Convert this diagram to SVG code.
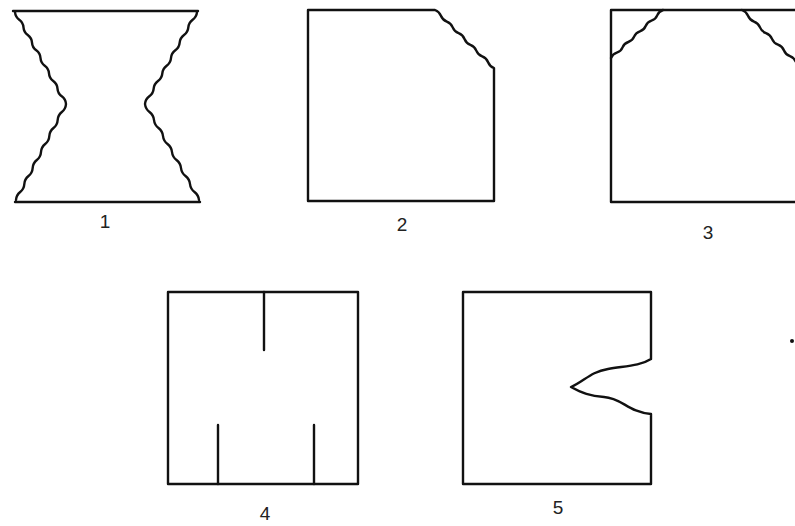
<svg xmlns="http://www.w3.org/2000/svg" width="795" height="526" viewBox="0 0 795 526">
<style>
.ln{fill:none;stroke:#111;stroke-width:2.4;stroke-linejoin:round;stroke-linecap:round}
.lb{font-family:"Liberation Sans",Arial,sans-serif;font-size:19px;fill:#222;text-anchor:middle}
</style>
<rect width="795" height="526" fill="#fff"/>
<g id="fig1">
<path class="ln" d="M13,11 L198,11"/>
<path class="ln" d="M15,202 L200,202"/>
<path class="ln" d="M15,12 Q15.3,16.8 19.25,19.67 T23.5,27.33 T27.75,35 T32,42.67 T36.25,50.33 T40.5,58 T44.75,65.67 T49,73.33 T53.25,81 T57.5,88.67 T61.75,96.33 T66,104 Q65.7,108.9 61.83,112 T57.67,120 T53.5,128 T49.33,136 T45.17,144 T41,152 T36.83,160 T32.67,168 T28.5,176 T24.33,184 T20.17,192 T16,200"/>
<path class="ln" d="M197,12 Q196.6,16.8 192.67,19.67 T188.33,27.33 T184,35 T179.67,42.67 T175.33,50.33 T171,58 T166.67,65.67 T162.33,73.33 T158,81 T153.67,88.67 T149.33,96.33 T145,104 Q145.5,108.9 149.5,112 T154,120 T158.5,128 T163,136 T167.5,144 T172,152 T176.5,160 T181,168 T185.5,176 T190,184 T194.5,192 T199,200"/>
<text class="lb" x="105" y="228">1</text>
</g>
<g id="fig2">
<path class="ln" d="M308,10 L435,10 Q439.2,11.6 440.9,15.8 T446.8,21.6 T452.7,27.4 T458.6,33.2 T464.5,39 T470.4,44.8 T476.3,50.6 T482.2,56.4 T488.1,62.2 T494,68 L494,201 L308,201 Z"/>
<text class="lb" x="402" y="231">2</text>
</g>
<g id="fig3">
<path class="ln" d="M800,10 L611,10 L611,202 L800,202"/>
<path class="ln" d="M611,58 Q612.6,54 616.78,52.67 T622.56,47.33 T628.33,42 T634.11,36.67 T639.89,31.33 T645.67,26 T651.44,20.67 T657.22,15.33 T663,10"/>
<path class="ln" d="M742,10 Q746.3,11.6 748,15.78 T754,21.56 T760,27.33 T766,33.11 T772,38.89 T778,44.67 T784,50.44 T790,56.22 T796,62"/>
<text class="lb" x="708" y="239">3</text>
</g>
<g id="fig4">
<rect class="ln" x="168" y="292" width="190" height="192"/>
<path class="ln" d="M264,292 L264,350 M218,425 L218,484 M314,425 L314,484"/>
<text class="lb" x="265" y="520">4</text>
</g>
<g id="fig5">
<path class="ln" d="M651,359 L651,292 L463,292 L463,484 L651,484 L651,414 C628,412 622,398 604,397 C590,396 582,393 571,387 C585,381 590,372 608,369 C625,366 640,366 651,359"/>
<text class="lb" x="558" y="514">5</text>
</g>
<circle id="dot" cx="792" cy="341" r="2" fill="#111"/>
</svg>
